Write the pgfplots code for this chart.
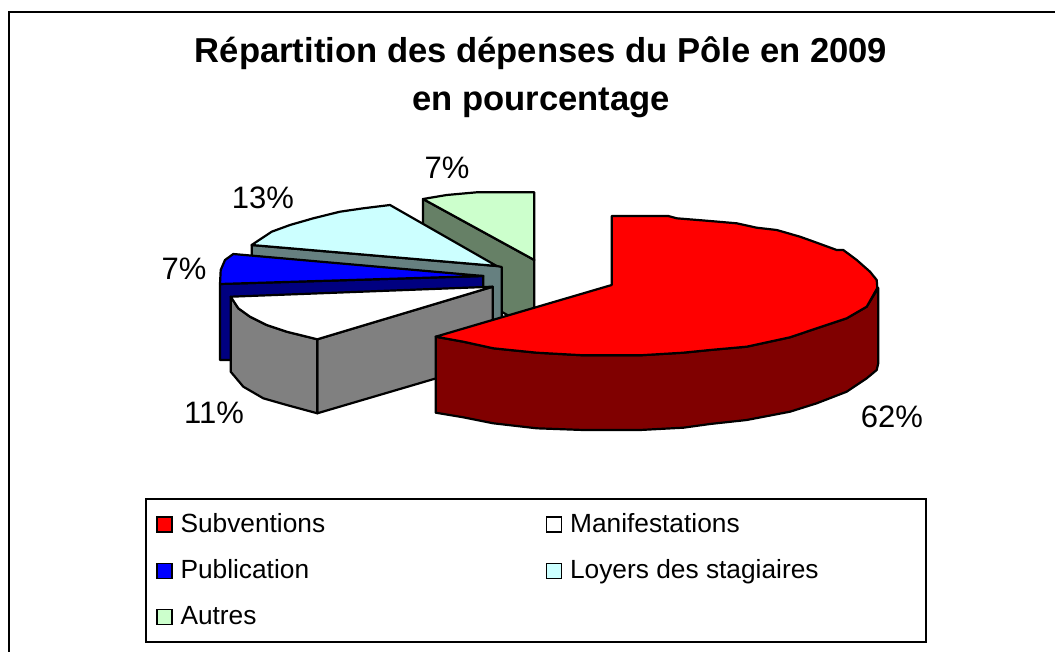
\documentclass[border=0pt]{standalone}
\usepackage{pgfplots}
\pgfplotsset{compat=1.18}
\usepackage{fontspec}
\setmainfont{Liberation Sans}
\definecolor{cred}{HTML}{FF0000}
\definecolor{credS}{HTML}{800000}
\definecolor{cblueS}{HTML}{000080}
\definecolor{ccyan}{HTML}{CCFFFF}
\definecolor{ccyanS}{HTML}{668080}
\definecolor{cgreen}{HTML}{CCFFCC}
\definecolor{cgreenS}{HTML}{668066}
\definecolor{cgrayS}{HTML}{808080}
\newcommand\lent[2]{\raisebox{1pt}{\makebox[#1][l]{\vphantom{Apg}#2}}}
\pgfplotsset{
  sl/.style={draw=black,line width=2.2pt,line join=round,forget plot},
  swatch/.style={legend image code/.code={\draw[black,line width=1.6pt,fill=#1] (0pt,-8pt) rectangle (15pt,7pt);}},
}
\begin{document}
\begin{tikzpicture}
\begin{axis}[
  scale only axis,width=1055pt,height=652pt,
  xmin=0,xmax=1055,ymin=0,ymax=652,y dir=reverse,
  axis lines=none,clip=false,
  legend columns=2,
  legend cell align=left,
  legend style={at={(axis cs:145,498)},anchor=north west,draw=black,line width=1.8pt,
    font=\fontsize{26.3pt}{30pt}\selectfont,inner xsep=10pt,inner ysep=2pt,
    /tikz/every odd column/.append style={column sep=8pt},
    nodes={inner sep=0pt,minimum height=46.3pt,anchor=west}},
]
\path[use as bounding box] (axis cs:0,0) rectangle (axis cs:1055,652);
% frame
\addplot[draw=black,line width=2.5pt,forget plot] coordinates {(9,652)(9,12)(1055,12)};
% Autres
\addplot[sl,fill=cgreenS] coordinates {(423,199)(534.3,260)(534.3,330)(423,268)} --cycle;
\addplot[sl,fill=cgreen] coordinates {(423,199)(446.7,195)(476.7,192.3)(534.3,192.3)(534.3,260)} --cycle;
% Loyers
\addplot[sl,fill=ccyanS] coordinates {(251.7,245)(496.7,266)(501.7,267)(501.7,330)(251.7,275)} --cycle;
\addplot[sl,fill=ccyan] coordinates {(251.7,245)(271.7,231.7)(290,225)(313.3,218.3)(340,211.7)(363.3,208.3)(390,205)(496.7,266)} --cycle;
% Publication
\addplot[sl,fill=cblueS] coordinates {(220,284)(483.3,276)(483.3,295)(300,360)(220,360)} --cycle;
\addplot[sl,fill=blue] coordinates {(233.3,254)(225,260)(220.7,270)(220,284)(483.3,276)} --cycle;
% Manifestations
\addplot[sl,fill=cgrayS] coordinates {(317.3,339.3)(492.7,286.7)(492.7,361.7)(317.3,413.3)} --cycle;
\addplot[sl,fill=cgrayS] coordinates {(230.7,296.7)(238.3,308.3)(250,316.7)(266.7,325)(286.7,331.7)(317.3,339.3)(317.3,413.3)(286.7,405)(263.3,398.3)(243.3,386.7)(230.7,371.7)} --cycle;
\addplot[sl,fill=white] coordinates {(230.7,296.7)(238.3,308.3)(250,316.7)(266.7,325)(286.7,331.7)(317.3,339.3)(492.7,286.7)} --cycle;
% Subventions
\addplot[sl,fill=credS] coordinates {(435.7,336.7)(435.7,412.7)(463.3,417.3)(493.3,423.3)(536.7,428.3)(583.3,430)(640,430)(683.3,427.7)(710,424)(746.7,420)(790,411.7)(816.7,403.3)(846.7,391.7)(866.7,378.3)(876.7,370)(878.3,363)(878.3,288)(866.7,306.7)(846.7,318.3)(816.7,328.3)(790,337.3)(746.7,346.7)(710,350)(683.3,352.7)(640,355.3)(583.3,355.3)(536.7,352.7)(493.3,348.3)(463.3,341.7)} --cycle;
\addplot[sl,fill=cred] coordinates {(611.7,216)(668.3,216)(676.7,218.3)(710,221)(736.7,223.3)(756.7,227.7)(776.7,230)(800,236.7)(816.7,242.7)(836.7,250)(843.3,250)(856.7,260)(870,271.7)(876.7,280)(877.3,288)(866.7,306.7)(846.7,318.3)(816.7,328.3)(790,337.3)(746.7,346.7)(710,350)(683.3,352.7)(640,355.3)(583.3,355.3)(536.7,352.7)(493.3,348.3)(463.3,341.7)(435.7,336.7)(611.7,285)} --cycle;
% legend
\addlegendimage{swatch=cred}\addlegendentry{\lent{365pt}{Subventions}}
\addlegendimage{swatch=white}\addlegendentry{\lent{346pt}{Manifestations}}
\addlegendimage{swatch=blue}\addlegendentry{\lent{365pt}{Publication}}
\addlegendimage{swatch=ccyan}\addlegendentry{\lent{346pt}{Loyers des stagiaires}}
\addlegendimage{swatch=cgreen}\addlegendentry{\lent{365pt}{Autres}}
% title
\node[align=center,font=\fontsize{34.6pt}{48pt}\selectfont\bfseries] at (axis cs:541,77) {Répartition des dépenses du Pôle en 2009\\en pourcentage};
% labels
\foreach \x/\y/\t in {892/417/62\%,214/413/11\%,184/269/7\%,263/198/13\%,447/168/7\%}{
  \edef\tmp{\noexpand\node[font=\noexpand\fontsize{31pt}{34pt}\noexpand\selectfont] at (axis cs:\x,\y) {\t};}\tmp
}
\end{axis}
\end{tikzpicture}
\end{document}
